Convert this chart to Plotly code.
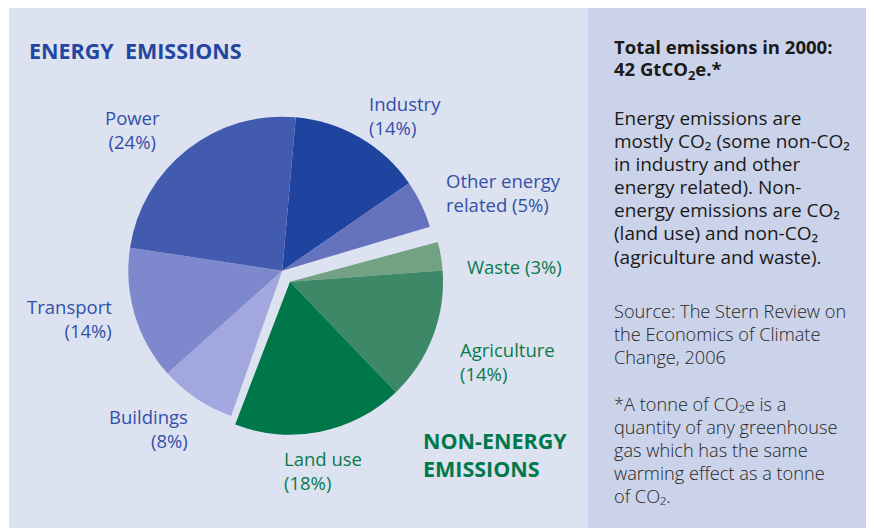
import plotly.graph_objects as go

# the page body has an 8px margin, so the figure is 8px smaller than the window
# and every position below is given in window pixels, then shifted
W, H = 866, 520
OFF = 8

# energy pie, clockwise from the Power/Industry boundary; "" is the gap left for the other pie
energy_labels = ["Industry", "Other energy related", "", "Buildings", "Transport", "Power"]
energy_values = [14, 5, 35, 8, 14, 24]
energy_colors = ["#1f44a0", "#6573bf", "rgba(0,0,0,0)", "#a2a8df", "#7e88cc", "#435bae"]

# non-energy pie, clockwise from the Waste start
nonenergy_labels = ["Waste", "Agriculture", "Land use", ""]
nonenergy_values = [3, 14, 18, 65]
nonenergy_colors = ["#72a283", "#3c8867", "#00774a", "rgba(0,0,0,0)"]

BLUE = "#3350a6"
GREEN = "#0a7a4c"

# slice labels: text, x px, y px (first line centre), anchor, colour
slice_text = [
    ("Power<br>(24%)", 133, 115, "center", BLUE),
    ("Industry<br>(14%)", 367, 101, "left", BLUE),
    ("Other energy<br>related (5%)", 444, 178, "left", BLUE),
    ("Waste (3%)", 465, 264, "left", GREEN),
    ("Transport<br>(14%)", 114, 304, "right", BLUE),
    ("Agriculture<br>(14%)", 458, 347, "left", GREEN),
    ("Buildings<br>(8%)", 190, 414, "right", BLUE),
    ("Land use<br>(18%)", 282, 456, "left", GREEN),
]

side_bold = ["Total emissions in 2000:", "42 GtCO<sub>2</sub>e.*"]
side_lines = [
    ("Energy emissions are", 118),
    ("mostly CO₂ (some non-CO₂", 141),
    ("in industry and other", 164),
    ("energy related). Non-", 187),
    ("energy emissions are CO₂", 210),
    ("(land use) and non-CO₂", 233),
    ("(agriculture and waste).", 257),
]
side_light = [
    ("Source: The Stern Review on", 311),
    ("the Economics of Climate", 334),
    ("Change, 2006", 357),
    ("*A tonne of CO₂e is a", 404),
    ("quantity of any greenhouse", 427),
    ("gas which has the same", 450),
    ("warming effect as a tonne", 473),
    ("of CO₂.", 496),
]

FONT = "Open Sans"


def px(x):
    return (x - OFF) / W


def py(y):
    return 1 - (y - OFF) / H


def domain(cx, cy, r):
    return {"x": [px(cx - r), px(cx + r)], "y": [py(cy + r), py(cy - r)]}


fig = go.Figure()
fig.add_trace(
    go.Pie(
        labels=energy_labels,
        values=energy_values,
        marker=dict(colors=energy_colors, line=dict(width=0)),
        sort=False,
        direction="clockwise",
        rotation=5,
        textinfo="none",
        domain=domain(282.3, 270.7, 154),
    )
)
fig.add_trace(
    go.Pie(
        labels=nonenergy_labels,
        values=nonenergy_values,
        marker=dict(colors=nonenergy_colors, line=dict(width=0)),
        sort=False,
        direction="clockwise",
        rotation=75,
        textinfo="none",
        domain=domain(290, 281.7, 153),
    )
)

fig.add_shape(type="rect", xref="paper", yref="paper", x0=px(9), x1=px(588), y0=0, y1=1,
              fillcolor="#dde2f1", line_width=0, layer="below")
fig.add_shape(type="rect", xref="paper", yref="paper", x0=px(588), x1=px(871), y0=0, y1=1,
              fillcolor="#cad3e9", line_width=0, layer="below")

fig.add_annotation(x=px(27), y=py(50), text="<b>ENERGY &nbsp;EMISSIONS</b>", xanchor="left",
                   yanchor="middle", showarrow=False, font=dict(size=21.5, color="#2346a0", family=FONT))
fig.add_annotation(x=px(421), y=py(437), text="<b>NON-ENERGY<br>EMISSIONS</b>", xanchor="left",
                   yanchor="top", yshift=13, showarrow=False, align="left",
                   font=dict(size=21.5, color="#00794a", family=FONT))

for text, x, y, anchor, color in slice_text:
    fig.add_annotation(x=px(x), y=py(y), text=text, xanchor=anchor, yanchor="top", yshift=12,
                       showarrow=False, align=anchor, font=dict(size=18.5, color=color, family=FONT))

for i, text in enumerate(side_bold):
    fig.add_annotation(x=px(612), y=py(47 + 23 * i), text=f"<b>{text}</b>", xanchor="left",
                       yanchor="middle", showarrow=False, font=dict(size=18.5, color="#1a1a1a", family=FONT))
for text, y in side_lines:
    fig.add_annotation(x=px(612), y=py(y), text=text, xanchor="left", yanchor="middle",
                       showarrow=False, font=dict(size=19, color="#1a1a1a", family=FONT))
for text, y in side_light:
    fig.add_annotation(x=px(612), y=py(y), text=text, xanchor="left", yanchor="middle",
                       showarrow=False, font=dict(size=18.2, color="#262626", family=FONT, weight=300))

fig.update_layout(
    width=W,
    height=H,
    margin={"l": 0, "r": 0, "t": 0, "b": 0},
    paper_bgcolor="white",
    showlegend=False,
)
fig.write_html("out.html")
